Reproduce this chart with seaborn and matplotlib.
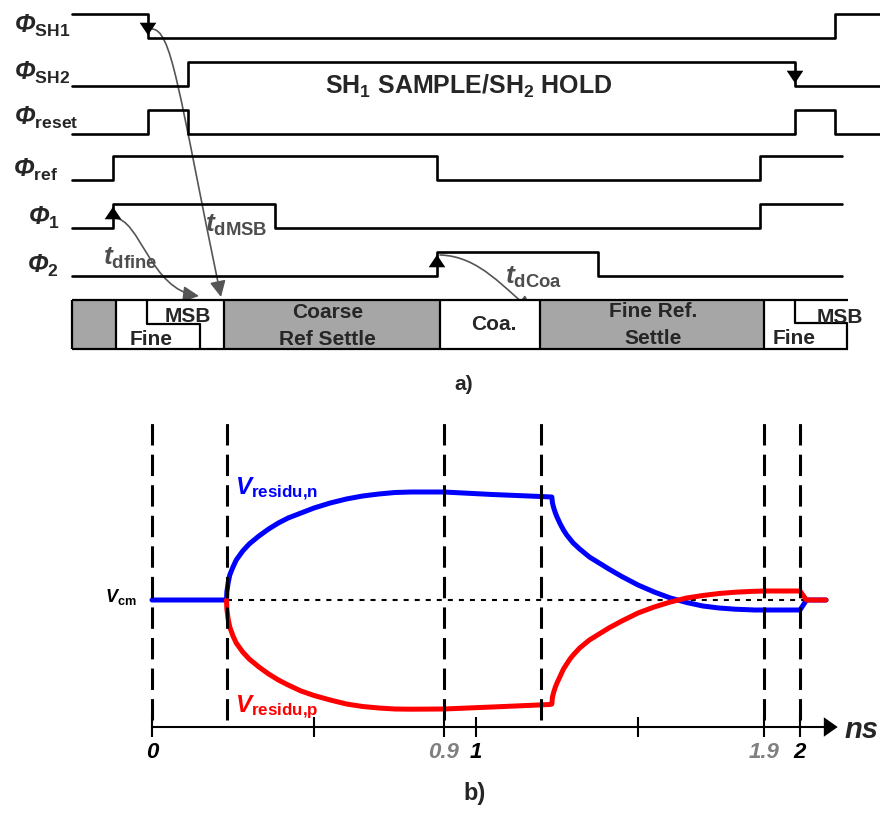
import matplotlib
matplotlib.use("Agg")
import matplotlib.pyplot as plt
import seaborn as sns
from matplotlib.patches import FancyArrowPatch
from matplotlib.path import Path

# ---------- (a) timing diagram: edge times (diagram units) and levels ----------
SH1_T = [72, 148, 835, 880]
SH1_V = [1, 0, 1, 1]
SH2_T = [72, 188, 795, 880]
SH2_V = [0, 1, 0, 0]
RESET_T = [72, 148, 188, 795, 835, 880]
RESET_V = [0, 1, 0, 1, 0, 0]
REF_T = [72, 113, 437, 760, 842]
REF_V = [0, 1, 0, 1, 1]
PHI1_T = [72, 113, 275, 760, 842]
PHI1_V = [0, 1, 0, 1, 1]
PHI2_T = [72, 437, 598, 842]
PHI2_V = [0, 1, 0, 0]

PHASE_LABELS = [r"$Φ_{\mathbf{SH1}}$", r"$Φ_{\mathbf{SH2}}$", r"$Φ_{\mathbf{reset}}$",
                r"$Φ_{\mathbf{ref}}$", r"$Φ_{\mathbf{1}}$", r"$Φ_{\mathbf{2}}$"]

# phase bar segments
BAR_EDGES = [72, 116, 224, 440, 540, 764, 848]
BAR_SHADED = [True, False, True, False, True, False]
BAR_TEXTS = ["MSB", "Fine", "Coarse", "Ref Settle", "Coa.", "Fine Ref.", "Settle", "Fine", "MSB"]

# ---------- (b) residue waveforms (ns, normalised to Vcm) ----------
BLUE_T = [0, 0.23, 0.231, 0.235, 0.24, 0.25, 0.26, 0.28, 0.30, 0.33, 0.36, 0.39,
          0.42, 0.46, 0.50, 0.55, 0.60, 0.65, 0.70, 0.75, 0.80, 0.9, 1.05, 1.2,
          1.234, 1.236, 1.24, 1.245, 1.25, 1.26, 1.27, 1.28, 1.29, 1.30, 1.32,
          1.35, 1.38, 1.41, 1.45, 1.50, 1.55, 1.60, 1.65, 1.70, 1.75, 1.80, 1.86,
          1.89, 2.0, 2.02, 2.08]
BLUE_V = [0, 0, 0.08, 0.17, 0.25, 0.33, 0.40, 0.49, 0.56, 0.64, 0.71, 0.77,
          0.82, 0.87, 0.92, 0.97, 1.01, 1.04, 1.06, 1.075, 1.08, 1.08, 1.055, 1.035,
          1.03, 0.97, 0.92, 0.87, 0.83, 0.76, 0.70, 0.65, 0.61, 0.57, 0.51,
          0.43, 0.37, 0.31, 0.235, 0.15, 0.08, 0.02, -0.025, -0.06, -0.08, -0.092, -0.10,
          -0.10, -0.10, 0, 0]
RED_T = [0.23, 0.231, 0.235, 0.24, 0.25, 0.26, 0.28, 0.30, 0.33, 0.36, 0.39,
         0.42, 0.46, 0.50, 0.55, 0.60, 0.65, 0.70, 0.75, 0.80, 0.9, 1.05, 1.228,
         1.234, 1.236, 1.24, 1.245, 1.25, 1.26, 1.27, 1.28, 1.29, 1.30, 1.32,
         1.35, 1.38, 1.41, 1.45, 1.50, 1.55, 1.60, 1.65, 1.70, 1.75, 1.80, 1.85,
         1.89, 2.0, 2.02, 2.08]
RED_V = [0, -0.09, -0.19, -0.27, -0.36, -0.43, -0.52, -0.59, -0.67, -0.74, -0.80,
         -0.85, -0.91, -0.955, -1.0, -1.04, -1.065, -1.08, -1.09, -1.092, -1.09, -1.07, -1.045,
         -1.04, -0.97, -0.92, -0.87, -0.83, -0.76, -0.69, -0.64, -0.59, -0.55, -0.48,
         -0.40, -0.34, -0.28, -0.21, -0.13, -0.07, -0.02, 0.02, 0.045, 0.065, 0.078, 0.086,
         0.09, 0.09, 0, 0]

PHASE_NS = [0, 0.23, 0.9, 1.2, 1.89, 2.0]
TICKS_NS = [0, 0.5, 0.9, 1, 1.5, 1.89, 2]
TICK_LABELS = ["0", "", "0.9", "1", "", "1.9", "2"]
TICK_COLORS = ["black", "black", "#808080", "black", "black", "#808080", "black"]

sns.set_theme(style="white")
plt.rcParams["font.family"] = ["Liberation Sans", "DejaVu Sans"]
plt.rcParams["mathtext.fontset"] = "custom"
plt.rcParams["mathtext.rm"] = "Liberation Sans:bold:italic"
plt.rcParams["mathtext.it"] = "Liberation Sans:bold:italic"
plt.rcParams["mathtext.bf"] = "Liberation Sans:bold"
plt.rcParams["mathtext.sf"] = "Liberation Sans:bold"

fig = plt.figure(figsize=(8.8, 8.13), dpi=100)
ax_a = fig.add_axes([0, 413 / 813, 1, 400 / 813])
ax_b = fig.add_axes([0, 0, 1, 413 / 813])

# ===================== (a) =====================
rows = [(SH1_T, SH1_V, 38), (SH2_T, SH2_V, 86), (RESET_T, RESET_V, 134),
        (REF_T, REF_V, 180), (PHI1_T, PHI1_V, 228), (PHI2_T, PHI2_V, 276)]
label_pos = [(14, 33), (14, 80), (14, 125), (13, 177), (28, 225), (27, 273)]
for (t, v, low), lab, (lx, ly) in zip(rows, PHASE_LABELS, label_pos):
    sns.lineplot(x=t, y=[low - 24 * s for s in v], ax=ax_a, color="black",
                 lw=1.9, drawstyle="steps-post", estimator=None, sort=False)
    ax_a.text(lx, ly, lab, fontsize=18, va="baseline", ha="left")

ax_a.text(469, 94, r"SH$_\mathbf{1}$ SAMPLE/SH$_\mathbf{2}$ HOLD",
          fontsize=18, fontweight="bold", ha="center", va="baseline")

# edge arrowheads
head = dict(arrowstyle="-|>,head_length=0.45,head_width=0.3", mutation_scale=20,
            color="black", lw=0)
ax_a.annotate("", xy=(148, 38), xytext=(148, 22), arrowprops=head)
ax_a.annotate("", xy=(795, 86), xytext=(795, 70), arrowprops=head)
ax_a.annotate("", xy=(113, 204), xytext=(113, 222), arrowprops=head)
ax_a.annotate("", xy=(437, 252), xytext=(437, 270), arrowprops=head)

# delay arrows
grey = "#555555"
curves = [
    [(151, 29), (172, 28), (178, 90), (221, 297)],
    [(114, 218), (140, 218), (150, 290), (199, 296)],
    [(440, 255), (480, 256), (505, 290), (533, 311)],
]
for pts in curves:
    p = Path(pts, [Path.MOVETO, Path.CURVE4, Path.CURVE4, Path.CURVE4])
    ax_a.add_patch(FancyArrowPatch(path=p, arrowstyle="-|>,head_length=0.6,head_width=0.3",
                                   mutation_scale=16, color=grey, lw=1.2))
for txt, x, y in [(r"$t_{\mathbf{dMSB}}$", 205, 232), (r"$t_{\mathbf{dfine}}$", 103, 265),
                  (r"$t_{\mathbf{dCoa}}$", 505, 284)]:
    ax_a.text(x, y, txt, fontsize=19, color="#4d4d4d", ha="left", va="baseline")

# phase bar
lefts = BAR_EDGES[:-1]
widths = [b - a for a, b in zip(BAR_EDGES[:-1], BAR_EDGES[1:])]
ax_a.barh(y=[324.5] * len(lefts), width=widths, left=lefts, height=49,
          color=["#a6a6a6" if s else "white" for s in BAR_SHADED], linewidth=0)
ax_a.hlines([300, 349], BAR_EDGES[0], BAR_EDGES[-1], color="black", lw=1.6)
ax_a.vlines(BAR_EDGES[:-1], 300, 349, color="black", lw=1.6)
ax_a.plot([147, 147, 200, 200], [300, 324, 324, 349], color="black", lw=1.6)
ax_a.plot([795, 795, 847, 847], [300, 323, 323, 349], color="black", lw=1.6)
bar_pos = [(188, 322), (151, 345), (328, 318), (327, 345), (494, 330),
           (653, 317), (653, 344), (794, 344), (840, 323)]
for txt, (x, y) in zip(BAR_TEXTS, bar_pos):
    ax_a.text(x, y, txt, fontsize=15, fontweight="bold", ha="center", va="baseline")

ax_a.text(464, 390, "a)", fontsize=15, fontweight="bold", ha="center", va="baseline")
ax_a.set_xlim(0, 880)
ax_a.set_ylim(400, 0)
ax_a.axis("off")

# ===================== (b) =====================
ax_b.hlines(0, 0.23, 2.1, color="black", lw=1.5, linestyles=(0, (2.4, 2.9)), zorder=1)
sns.lineplot(x=BLUE_T, y=BLUE_V, ax=ax_b, color="#0000ff", lw=3.6,
             estimator=None, sort=False, zorder=2, solid_joinstyle="round")
sns.lineplot(x=RED_T, y=RED_V, ax=ax_b, color="#ff0000", lw=3.6,
             estimator=None, sort=False, zorder=3, solid_joinstyle="round")
ax_b.vlines(PHASE_NS, -1.2, 1.85, color="black", lw=2.2,
            linestyles=(0, (7, 3)), zorder=4)

ax_b.text(0.256, 1.05, r"$V_{\mathbf{residu{,}n}}$", fontsize=17.5, color="#0000ff",
          ha="left", va="baseline")
ax_b.text(0.256, -1.12, r"$V_{\mathbf{residu{,}p}}$", fontsize=17.5, color="#ff0000",
          ha="left", va="baseline")
ax_b.text(-0.145, -0.02, r"$V_{\mathbf{cm}}$", fontsize=13, color="black",
          ha="left", va="baseline")

for side in ["top", "left", "right"]:
    ax_b.spines[side].set_visible(False)
ax_b.spines["bottom"].set_position(("data", -1.27))
ax_b.spines["bottom"].set_bounds(0, 2.1)
ax_b.spines["bottom"].set_color("black")
ax_b.spines["bottom"].set_linewidth(1.5)
ax_b.annotate("", xy=(2.125, -1.27), xytext=(2.06, -1.27),
              arrowprops=dict(arrowstyle="-|>,head_length=0.5,head_width=0.35",
                              mutation_scale=20, color="black", lw=0))
ax_b.set_xticks(TICKS_NS)
ax_b.set_xticklabels(TICK_LABELS, fontsize=16, fontweight="bold", fontstyle="italic")
for lab, c in zip(ax_b.get_xticklabels(), TICK_COLORS):
    lab.set_color(c)
ax_b.tick_params(axis="x", direction="inout", length=15, width=1.5, pad=3,
                 color="black", bottom=True)
ax_b.set_yticks([])
ax_b.text(2.19, -1.38, "ns", fontsize=21, fontweight="bold", fontstyle="italic",
          ha="center", va="baseline")
ax_b.text(0.997, -2.0, "b)", fontsize=17, fontweight="bold", ha="center", va="baseline")
ax_b.set_xlim(-152 / 324, (880 - 152) / 324)
ax_b.set_ylim(-2.13, 2.0)
ax_b.set_xlabel("")
ax_b.set_ylabel("")

fig.savefig("out.png", dpi=100)
